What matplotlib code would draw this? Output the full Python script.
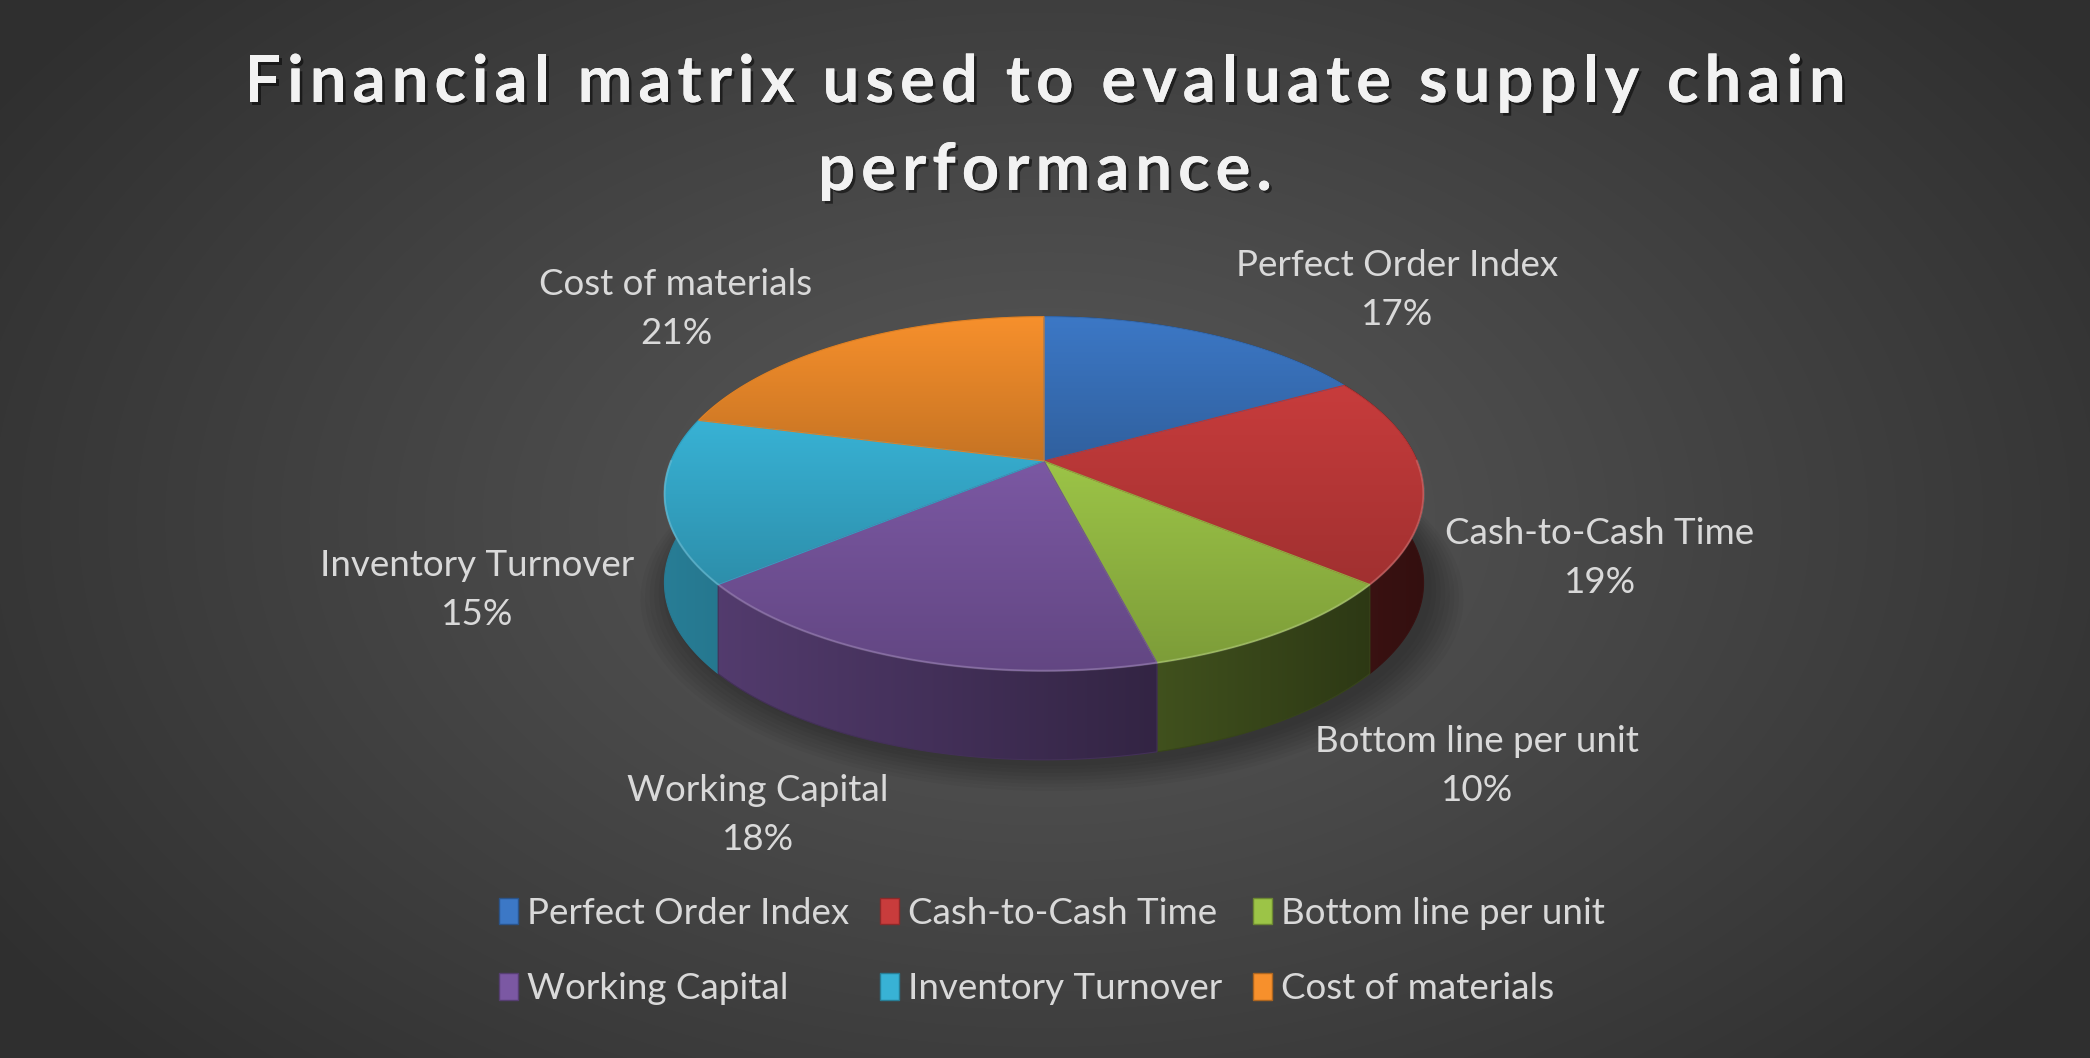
import numpy as np
import matplotlib
matplotlib.use("Agg")
import matplotlib.pyplot as plt
from matplotlib.patches import Polygon, Patch
from matplotlib.colors import to_rgb
from matplotlib.font_manager import FontProperties, findfont
from matplotlib.ft2font import FT2Font
import matplotlib.patheffects as pe

# данные
categories = ["Perfect Order Index", "Cash-to-Cash Time", "Bottom line per unit",
              "Working Capital", "Inventory Turnover", "Cost of materials"]
shares = [17, 19, 10, 18, 15, 21]
slice_colors = ["#3C78C6", "#C83C3C", "#9CC447", "#7B58A3", "#38B2D5", "#F7902C"]
title_lines = ["Financial matrix used to evaluate supply chain", "performance."]

# геометрия (пиксели, ось y вниз)
W, H = 2090, 1058
CX, CY = 1044, 461
RX, RY = 373, 171
PERSP = 0.185
DEPTH = 89
label_pos = [(1397, 290), (1600, 558), (1477, 766), (758, 815), (477, 590), (676, 309)]

plt.rcParams["font.family"] = ["Lato", "DejaVu Sans"]


def project(theta, drop=0.0):
    X = np.sin(theta)
    Y = np.cos(theta)
    w = 1 + PERSP * Y
    return np.column_stack([CX + RX * X / w, CY - RY * Y / w + drop])


def gradient_fill(ax, verts, c0, c1, horizontal=False, zorder=2):
    poly = Polygon(verts, closed=True, facecolor="none", edgecolor="none", zorder=zorder)
    ax.add_patch(poly)
    t = np.linspace(0, 1, 256)
    cols = np.outer(1 - t, c0) + np.outer(t, c1)
    img = cols[np.newaxis, :, :] if horizontal else cols[:, np.newaxis, :]
    xs, ys = verts[:, 0], verts[:, 1]
    im = ax.imshow(img, extent=(xs.min(), xs.max(), ys.max(), ys.min()), origin="upper",
                   aspect="auto", interpolation="bilinear", zorder=zorder)
    im.set_clip_path(poly)
    # сглаживание краёв
    ax.add_patch(Polygon(verts, closed=True, facecolor="none",
                         edgecolor=tuple((np.array(c0) + np.array(c1)) / 2),
                         linewidth=0.8, zorder=zorder + 0.01))


def wall_factor(x):
    u = (x - CX) / RX
    return np.clip(0.48 - 0.22 * u, 0.2, 0.8)


def spaced_text(ax, xc, y, s, size, tracking, **kw):
    """Текст с разрядкой: каждый символ ставится отдельно."""
    fp = FontProperties(family="Lato", weight="bold")
    font = FT2Font(findfont(fp))
    font.set_size(size, 100)
    adv = [font.load_char(ord(ch)).linearHoriAdvance / 65536 for ch in s]
    total = sum(adv) + tracking * (len(s) - 1)
    x = xc - total / 2
    for ch, a in zip(s, adv):
        if ch != " ":
            ax.text(x, y, ch, ha="left", va="baseline", fontsize=size,
                    fontweight="bold", **kw)
        x += a + tracking


fig = plt.figure(figsize=(W / 100, H / 100), dpi=100)
ax = fig.add_axes([0, 0, 1, 1])

# фон: радиальный градиент
yy, xx = np.mgrid[0:H, 0:W]
d = np.sqrt(((xx - 1045) / 1250) ** 2 + ((yy - 520) / 800) ** 2)
v = 0.355 - 0.17 * np.clip(d, 0, 1)
ax.imshow(np.dstack([v, v, v]), extent=(0, W, H, 0), origin="upper", aspect="auto", zorder=0)

# тень под диаграммой
base = project(np.linspace(0, 2 * np.pi, 200), drop=DEPTH)
for s in range(8):
    sc = 1 + 0.012 * s
    pts = np.column_stack([CX + (base[:, 0] - CX) * sc + 8, CY + (base[:, 1] - CY) * sc + 6])
    ax.add_patch(Polygon(pts, closed=True, facecolor="black", edgecolor="none", alpha=0.035, zorder=1))

fractions = np.array(shares) / np.sum(shares)
bounds = np.concatenate([[0], np.cumsum(fractions)]) * 2 * np.pi

# боковые стенки (сначала задние)
order = np.argsort([np.cos((bounds[i] + bounds[i + 1]) / 2) for i in range(len(shares))])[::-1]
for rank, i in enumerate(order):
    th = np.linspace(bounds[i], bounds[i + 1], 120)
    top = project(th)
    bot = project(th, drop=DEPTH)
    verts = np.vstack([top, bot[::-1]])
    c = np.array(to_rgb(slice_colors[i]))
    c0 = c * wall_factor(verts[:, 0].min())
    c1 = c * wall_factor(verts[:, 0].max())
    gradient_fill(ax, verts, c0, c1, horizontal=True, zorder=2 + rank * 0.1)

# верхние грани
for i in range(len(shares)):
    th = np.linspace(bounds[i], bounds[i + 1], 120)
    verts = np.vstack([[CX, CY], project(th)])
    c = np.array(to_rgb(slice_colors[i]))
    gradient_fill(ax, verts, c, c * 0.8, zorder=4)

# блик по переднему краю
th = np.linspace(np.pi / 2, 3 * np.pi / 2, 200)
rim = project(th)
ax.plot(rim[:, 0], rim[:, 1], color="white", alpha=0.18, linewidth=1.6, zorder=5)

# подписи долей
for i, (name, share) in enumerate(zip(categories, shares)):
    x, y = label_pos[i]
    ax.text(x, y, f"{name}\n{share}%", ha="center", va="center", fontsize=26.5,
            color="#D9D9D9", linespacing=1.6, zorder=6)

# заголовок
shadow = [pe.withSimplePatchShadow(offset=(2, -2), shadow_rgbFace="black", alpha=0.5), pe.Normal()]
for line, base_y in zip(title_lines, [102, 190]):
    spaced_text(ax, 1045, base_y, line, 47, 6.0, color="#F2F2F2", zorder=6, path_effects=shadow)

# легенда: заполняется по столбцам
handles = [Patch(facecolor=c, edgecolor=tuple(np.array(to_rgb(c)) * 0.7)) for c in slice_colors]
idx = [0, 3, 1, 4, 2, 5]
leg = ax.legend([handles[k] for k in idx], [categories[k] for k in idx], ncol=3,
                loc="center", bbox_to_anchor=(1052, 951), bbox_transform=ax.transData,
                frameon=False, fontsize=26.5, labelcolor="#D9D9D9",
                handlelength=0.5, handleheight=0.75, handletextpad=0.25,
                columnspacing=0.85, labelspacing=1.15)
leg.set_zorder(6)

ax.set_xlim(0, W)
ax.set_ylim(H, 0)
ax.axis("off")

fig.savefig("out.png", dpi=100)
plt.close(fig)
